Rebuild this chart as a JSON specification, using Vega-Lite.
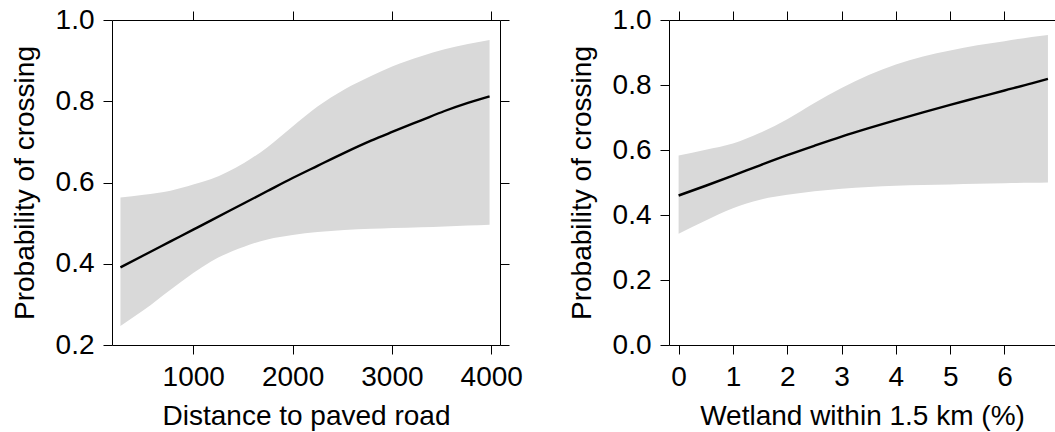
{
  "$schema": "https://vega.github.io/schema/vega-lite/v6.json",
  "padding": {"left": 10, "top": 5, "right": 0, "bottom": 0},
  "bounds": "flush",
  "spacing": 169,
  "background": "white",
  "config": {
    "font": "Liberation Sans",
    "view": {"stroke": "black", "strokeWidth": 1},
    "axis": {
      "domain": false,
      "grid": false,
      "tickColor": "black",
      "tickSize": 9,
      "tickWidth": 1,
      "labelFontSize": 28,
      "labelColor": "black",
      "labelPadding": 9,
      "labelFlush": false,
      "labelOverlap": false,
      "titleFontSize": 28,
      "titleFontWeight": "normal",
      "titleColor": "black"
    }
  },
  "datasets": {
    "road": [
      {"x": 267, "fit": 0.391, "lo": 0.247, "hi": 0.563},
      {"x": 502, "fit": 0.421, "lo": 0.286, "hi": 0.570},
      {"x": 771, "fit": 0.455, "lo": 0.336, "hi": 0.580},
      {"x": 1000, "fit": 0.484, "lo": 0.377, "hi": 0.595},
      {"x": 1175, "fit": 0.506, "lo": 0.405, "hi": 0.608},
      {"x": 1511, "fit": 0.549, "lo": 0.442, "hi": 0.648},
      {"x": 1747, "fit": 0.579, "lo": 0.460, "hi": 0.687},
      {"x": 2000, "fit": 0.611, "lo": 0.471, "hi": 0.738},
      {"x": 2251, "fit": 0.641, "lo": 0.478, "hi": 0.787},
      {"x": 2521, "fit": 0.673, "lo": 0.483, "hi": 0.829},
      {"x": 2790, "fit": 0.703, "lo": 0.486, "hi": 0.862},
      {"x": 3008, "fit": 0.725, "lo": 0.488, "hi": 0.886},
      {"x": 3294, "fit": 0.753, "lo": 0.490, "hi": 0.911},
      {"x": 3530, "fit": 0.776, "lo": 0.492, "hi": 0.928},
      {"x": 3765, "fit": 0.796, "lo": 0.494, "hi": 0.941},
      {"x": 3983, "fit": 0.812, "lo": 0.496, "hi": 0.951}
    ],
    "wetland": [
      {"x": 0, "fit": 0.460, "lo": 0.342, "hi": 0.583},
      {"x": 0.5, "fit": 0.490, "lo": 0.383, "hi": 0.601},
      {"x": 1, "fit": 0.521, "lo": 0.421, "hi": 0.620},
      {"x": 1.5, "fit": 0.553, "lo": 0.447, "hi": 0.653},
      {"x": 2, "fit": 0.584, "lo": 0.462, "hi": 0.695},
      {"x": 2.5, "fit": 0.613, "lo": 0.473, "hi": 0.745},
      {"x": 3, "fit": 0.641, "lo": 0.481, "hi": 0.791},
      {"x": 3.5, "fit": 0.667, "lo": 0.486, "hi": 0.831},
      {"x": 4, "fit": 0.692, "lo": 0.490, "hi": 0.863},
      {"x": 4.5, "fit": 0.716, "lo": 0.492, "hi": 0.888},
      {"x": 5, "fit": 0.739, "lo": 0.494, "hi": 0.906},
      {"x": 5.5, "fit": 0.761, "lo": 0.496, "hi": 0.922},
      {"x": 6, "fit": 0.783, "lo": 0.498, "hi": 0.935},
      {"x": 6.5, "fit": 0.805, "lo": 0.499, "hi": 0.948},
      {"x": 6.8, "fit": 0.819, "lo": 0.500, "hi": 0.954}
    ]
  },
  "hconcat": [
    {
      "width": 388,
      "height": 325,
      "data": {"name": "road"},
      "layer": [
        {
          "mark": {"type": "area", "color": "#d9d9d9", "opacity": 1, "interpolate": "monotone"},
          "encoding": {
            "x": {"field": "x", "type": "quantitative", "scale": {"domain": [182, 4088], "nice": false, "zero": false},
                  "axis": {"orient": "bottom", "values": [1000, 2000, 3000, 4000], "format": "d", "title": "Distance to paved road", "titlePadding": 11}},
            "y": {"field": "lo", "type": "quantitative", "scale": {"domain": [0.2, 1.0], "nice": false, "zero": false},
                  "axis": {"orient": "left", "values": [0.2, 0.4, 0.6, 0.8, 1.0], "format": ".1f", "title": "Probability of crossing", "titlePadding": 16}},
            "y2": {"field": "hi"}
          }
        },
        {
          "mark": {"type": "line", "color": "black", "strokeWidth": 2.4, "interpolate": "monotone"},
          "encoding": {
            "x": {"field": "x", "type": "quantitative", "scale": {"domain": [182, 4088], "nice": false, "zero": false},
                  "axis": {"orient": "top", "values": [1000, 2000, 3000, 4000], "labels": false, "title": null}},
            "y": {"field": "fit", "type": "quantitative", "scale": {"domain": [0.2, 1.0], "nice": false, "zero": false},
                  "axis": {"orient": "right", "values": [0.2, 0.4, 0.6, 0.8, 1.0], "labels": false, "title": null}}
          }
        }
      ]
    },
    {
      "width": 386,
      "height": 325,
      "data": {"name": "wetland"},
      "layer": [
        {
          "mark": {"type": "area", "color": "#d9d9d9", "opacity": 1, "interpolate": "monotone"},
          "encoding": {
            "x": {"field": "x", "type": "quantitative", "scale": {"domain": [-0.177, 6.93], "nice": false, "zero": false},
                  "axis": {"orient": "bottom", "values": [0, 1, 2, 3, 4, 5, 6], "format": "d", "title": "Wetland within 1.5 km (%)", "titlePadding": 11}},
            "y": {"field": "lo", "type": "quantitative", "scale": {"domain": [0, 1.0], "nice": false, "zero": false},
                  "axis": {"orient": "left", "values": [0, 0.2, 0.4, 0.6, 0.8, 1.0], "format": ".1f", "title": "Probability of crossing", "titlePadding": 16}},
            "y2": {"field": "hi"}
          }
        },
        {
          "mark": {"type": "line", "color": "black", "strokeWidth": 2.4, "interpolate": "monotone"},
          "encoding": {
            "x": {"field": "x", "type": "quantitative", "scale": {"domain": [-0.177, 6.93], "nice": false, "zero": false},
                  "axis": {"orient": "top", "values": [0, 1, 2, 3, 4, 5, 6], "labels": false, "title": null}},
            "y": {"field": "fit", "type": "quantitative", "scale": {"domain": [0, 1.0], "nice": false, "zero": false}}
          }
        }
      ]
    }
  ]
}
